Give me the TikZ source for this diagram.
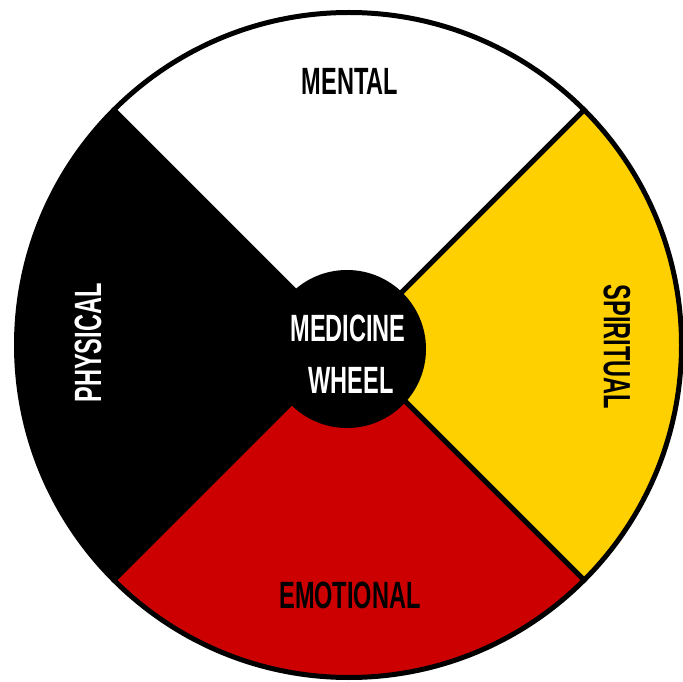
\documentclass[tikz,border=0pt]{standalone}
\usepackage{fontspec}
\usetikzlibrary{calc}
\newfontfamily\wheelfont[FakeStretch=0.62]{Liberation Sans}
\definecolor{wheelyellow}{RGB}{255,208,0}
\definecolor{wheelred}{RGB}{204,0,0}
\begin{document}
\begin{tikzpicture}[x=1pt,y=1pt,
  label/.style={font=\wheelfont\bfseries\fontsize{38}{40}\selectfont, inner sep=0pt},
  divider/.style={draw=black, line width=5pt},
  rim/.style={draw=black, line width=5pt}]
\useasboundingbox (0,0) rectangle (683,681);
\coordinate (c) at (349,336);
% four quadrants of the wheel
\fill[white]        (c) -- ++(45:332.5)  arc[start angle=45,  end angle=135, radius=332.5] -- cycle;
\fill[black]        (c) -- ++(135:332.5) arc[start angle=135, end angle=225, radius=332.5] -- cycle;
\fill[wheelred]     (c) -- ++(225:332.5) arc[start angle=225, end angle=315, radius=332.5] -- cycle;
\fill[wheelyellow]  (c) -- ++(315:332.5) arc[start angle=315, end angle=405, radius=332.5] -- cycle;
% dividing spokes
\coordinate (ne) at ($(c)+(45:332.5)$);
\coordinate (nw) at ($(c)+(135:332.5)$);
\coordinate (sw) at ($(c)+(225:332.5)$);
\coordinate (se) at ($(c)+(315:332.5)$);
\draw[divider] (nw) -- (se);
\draw[divider] (ne) -- (sw);
% outer rim
\draw[rim] (c) circle[radius=332.5];
% hub
\node[circle, fill=black, minimum size=158pt, inner sep=0pt] (hub) at (347,332) {};
\node[label, text=white] (medicine) at (348,353) {MEDICINE};
\node[label, text=white] (wheel) at (351,301) {WHEEL};
% quadrant labels
\node[label, text=black] (mental) at (350,600) {MENTAL};
\node[label, text=black] (emotional) at (350,86) {EMOTIONAL};
\node[label, text=white, rotate=90] (physical) at (88,338) {PHYSICAL};
\node[label, text=black, rotate=-90] (spiritual) at (617,334) {SPIRITUAL};
\end{tikzpicture}
\end{document}
